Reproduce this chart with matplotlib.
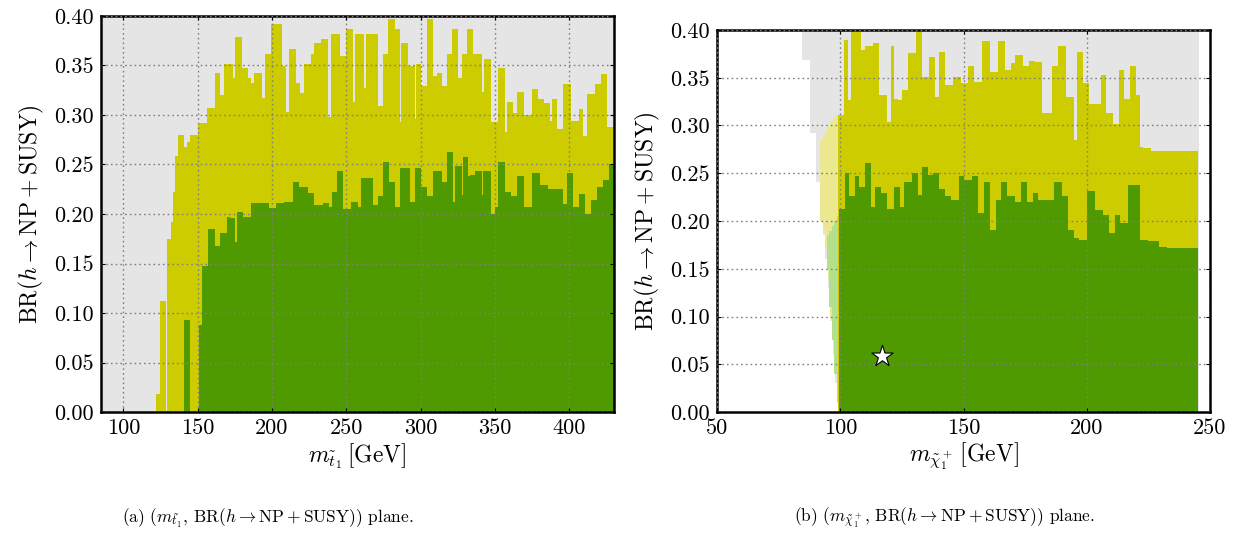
import matplotlib
matplotlib.use("Agg")
import matplotlib.pyplot as plt
from matplotlib.ticker import FuncFormatter, MultipleLocator

plt.rcParams["font.family"] = "serif"
plt.rcParams["font.serif"] = ["cmr10", "DejaVu Serif"]
plt.rcParams["mathtext.fontset"] = "cm"
plt.rcParams["axes.formatter.use_mathtext"] = True

# colours
YELLOW = "#cccc00"
GREEN = "#4e9a00"
GREY = "#e5e5e5"
PALE_YELLOW = "#ebe88f"
PALE_GREEN = "#b3e08a"

# ---- panel (a): stop mass, envelope of BR per mass bin ----
stop_yel_edges = [121.7, 124.7, 128.5, 129.6, 132, 133.6, 135, 137, 141, 143, 145, 150,
                  156, 162, 165, 168, 173.5, 175, 180, 184, 186, 188, 193, 195.5, 199,
                  207, 209.4, 211.7, 216, 218.5, 221.7, 226, 228.5, 233, 237.4, 239.7,
                  246, 250, 254.5, 256, 262, 263.5, 271, 274.7, 278, 282.5, 286, 287,
                  291.5, 296, 297, 300, 304.5, 308, 310.8, 314, 317.5, 321, 325.3, 328,
                  331, 335.4, 341, 342.8, 347.3, 352.2, 356.7, 358.3, 362, 364.6, 369.3,
                  374.6, 378.6, 382.6, 386.7, 388, 392, 396, 401, 406.7, 409, 412, 417.4,
                  421.4, 425.4, 430]
stop_yel_top = [0.018, 0.112, 0.0, 0.175, 0.192, 0.222, 0.259, 0.280, 0.268, 0.273, 0.280,
                0.292, 0.307, 0.342, 0.320, 0.352, 0.337, 0.379, 0.347, 0.337, 0.332,
                0.342, 0.317, 0.362, 0.392, 0.350, 0.303, 0.367, 0.332, 0.322, 0.352,
                0.362, 0.373, 0.377, 0.298, 0.382, 0.360, 0.387, 0.313, 0.382, 0.327,
                0.382, 0.309, 0.362, 0.397, 0.387, 0.293, 0.373, 0.350, 0.296, 0.352,
                0.329, 0.397, 0.339, 0.342, 0.329, 0.362, 0.387, 0.337, 0.362, 0.387,
                0.362, 0.323, 0.357, 0.293, 0.347, 0.283, 0.313, 0.302, 0.323, 0.300,
                0.326, 0.316, 0.312, 0.294, 0.316, 0.286, 0.331, 0.294, 0.306, 0.279,
                0.321, 0.331, 0.341, 0.288]

stop_grn_edges = [141, 145, 151, 153, 157, 162, 165, 170, 172, 175, 176.5, 180.5, 186,
                  191.5, 198, 202.5, 208, 214, 218.4, 224, 228.5, 234, 238.5, 240.6, 244,
                  247.5, 253, 258, 260, 268, 271, 274.7, 278.5, 282.5, 286, 292.6, 296,
                  300.4, 304.5, 308, 314, 317.5, 322, 323, 327.6, 328.5, 332, 333, 336.5,
                  341, 342, 347, 350, 352.2, 356.7, 361, 364.6, 369.3, 374.6, 380, 385.3,
                  396, 398.7, 402.7, 406.7, 410.7, 414.7, 418.7, 422.7, 426.8, 430]
stop_grn_top = [0.093, 0.0, 0.088, 0.147, 0.185, 0.168, 0.181, 0.197, 0.196, 0.172, 0.202,
                0.197, 0.211, 0.211, 0.206, 0.211, 0.212, 0.232, 0.227, 0.221, 0.209,
                0.211, 0.207, 0.222, 0.243, 0.205, 0.212, 0.207, 0.236, 0.209, 0.218,
                0.253, 0.232, 0.207, 0.246, 0.212, 0.246, 0.227, 0.218, 0.243, 0.232,
                0.263, 0.212, 0.248, 0.219, 0.258, 0.238, 0.239, 0.243, 0.219, 0.243,
                0.200, 0.207, 0.253, 0.222, 0.218, 0.238, 0.207, 0.241, 0.229, 0.225,
                0.210, 0.241, 0.207, 0.220, 0.200, 0.214, 0.227, 0.234, 0.251]

# ---- panel (b): chargino mass ----
chi_grey_edges = [84.5, 87.8, 90, 92, 93, 94, 95, 96, 97, 98, 99, 245.5]
chi_grey_low = [0.369, 0.292, 0.241, 0.20, 0.185, 0.16, 0.13, 0.095, 0.06, 0.03, 0.0]
chi_grey_top = [0.40] * 11

chi_paley_edges = [91.8, 93, 94, 95, 96, 97, 98, 99.3]
chi_paley_low = [0.20, 0.19, 0.17, 0.14, 0.10, 0.07, 0.04]
chi_paley_top = [0.285, 0.29, 0.295, 0.30, 0.305, 0.308, 0.311]

chi_paleg_edges = [94.5, 95.5, 96.5, 97.5, 98.5, 99.5]
chi_paleg_low = [0.15, 0.11, 0.075, 0.04, 0.01]
chi_paleg_top = [0.185, 0.19, 0.195, 0.20, 0.205]

chi_yel_edges = [99, 101.4, 103, 104.5, 108.5, 110, 113.2, 115.6, 118.8, 120.4, 122,
                 123.5, 125, 127.5, 130.6, 133, 136, 138.5, 140, 142.5, 145.6, 148.8,
                 152, 154.3, 157.5, 160.7, 163.8, 167, 169.4, 171, 174, 176.5, 178.9, 182,
                 184.4, 186, 188.3, 191.5, 194.7, 196.2, 198.6, 201, 203.4, 205.7, 208,
                 210.5, 213, 215, 217.6, 220, 221.5, 223, 226, 245.3]
chi_yel_top = [0.311, 0.390, 0.327, 0.398, 0.379, 0.383, 0.386, 0.332, 0.304, 0.383,
               0.328, 0.327, 0.337, 0.376, 0.398, 0.351, 0.372, 0.330, 0.377, 0.342,
               0.351, 0.344, 0.362, 0.346, 0.388, 0.356, 0.388, 0.358, 0.365, 0.374,
               0.362, 0.368, 0.367, 0.313, 0.313, 0.362, 0.383, 0.330, 0.285, 0.377,
               0.344, 0.323, 0.323, 0.353, 0.313, 0.302, 0.358, 0.328, 0.362, 0.332,
               0.278, 0.276, 0.273]

chi_grn_edges = [99.3, 102, 103.7, 106, 107.7, 110, 112.5, 114, 116.4, 118.8, 122, 124.3,
                 126, 129, 131.4, 133, 135.4, 137.7, 140, 142.5, 144.9, 148, 150.4, 153.6,
                 156, 158.3, 160.7, 163, 165.4, 167.8, 171, 173.3, 175.7, 178, 180.4,
                 183.6, 186.8, 190, 192.3, 194.7, 197, 200.2, 203.4, 206.5, 208.9, 211.3,
                 213.6, 216.8, 219.2, 221.5, 224.7, 229.4, 232.6, 245.3]
chi_grn_top = [0.213, 0.250, 0.226, 0.247, 0.236, 0.261, 0.215, 0.236, 0.229, 0.213,
               0.236, 0.215, 0.241, 0.250, 0.227, 0.257, 0.248, 0.250, 0.233, 0.226,
               0.222, 0.247, 0.243, 0.247, 0.208, 0.241, 0.191, 0.222, 0.241, 0.226,
               0.220, 0.241, 0.220, 0.229, 0.222, 0.222, 0.241, 0.226, 0.191, 0.182,
               0.180, 0.231, 0.212, 0.206, 0.187, 0.206, 0.198, 0.238, 0.238, 0.180,
               0.179, 0.173, 0.172]

star_mass = [116.9]
star_br = [0.059]

YLABEL = r"$\mathrm{BR}(h \rightarrow \mathrm{NP} + \mathrm{SUSY})$"


def style_axes(ax, xlim, xstep, xlabel):
    ax.set_xlim(*xlim)
    ax.set_ylim(0, 0.40)
    ax.xaxis.set_major_locator(MultipleLocator(xstep))
    ax.yaxis.set_major_locator(MultipleLocator(0.05))
    ax.xaxis.set_major_formatter(FuncFormatter(lambda v, p: f"{v:.0f}"))
    ax.yaxis.set_major_formatter(FuncFormatter(lambda v, p: f"{v:.2f}"))
    ax.tick_params(direction="in", length=3, width=0.8, labelsize=16,
                   top=True, right=True, pad=5)
    ax.grid(True, color="#808080", linestyle=(0, (1.2, 2.2)), linewidth=1.0)
    ax.set_axisbelow(False)
    for s in ax.spines.values():
        s.set_linewidth(1.8)
    ax.set_xlabel(xlabel, fontsize=17, labelpad=2)
    ax.set_ylabel(YLABEL, fontsize=17, labelpad=6)


fig = plt.figure(figsize=(12.34, 5.37), dpi=100)

# (a)
ax1 = fig.add_axes([101 / 1234, 1 - 412 / 537, 513 / 1234, 396 / 537])
ax1.set_facecolor(GREY)
ax1.stairs(stop_yel_top, stop_yel_edges, fill=True, color=YELLOW, zorder=1)
ax1.stairs(stop_grn_top, stop_grn_edges, fill=True, color=GREEN, zorder=1.2)
style_axes(ax1, (85, 430), 50, r"$m_{\tilde{t}_1}\,[\mathrm{GeV}]$")

# (b)
ax2 = fig.add_axes([717 / 1234, 1 - 412 / 537, 493 / 1234, 382 / 537])
ax2.set_facecolor("white")
ax2.stairs(chi_grey_top, chi_grey_edges, baseline=chi_grey_low, fill=True,
           color=GREY, zorder=0.8)
ax2.stairs(chi_paley_top, chi_paley_edges, baseline=chi_paley_low, fill=True,
           color=PALE_YELLOW, zorder=0.9)
ax2.stairs(chi_paleg_top, chi_paleg_edges, baseline=chi_paleg_low, fill=True,
           color=PALE_GREEN, zorder=0.95)
ax2.stairs(chi_yel_top, chi_yel_edges, fill=True, color=YELLOW, zorder=1)
ax2.stairs(chi_grn_top, chi_grn_edges, fill=True, color=GREEN, zorder=1.2)
ax2.scatter(star_mass, star_br, marker="*", s=260, c="white", edgecolors="black",
            linewidths=0.8, zorder=5)
style_axes(ax2, (50, 250), 50, r"$m_{\tilde{\chi}_1^+}\,[\mathrm{GeV}]$")

fig.text(0.217, 0.035,
         r"(a) $(m_{\tilde{t}_1},\, \mathrm{BR}(h \rightarrow \mathrm{NP} + \mathrm{SUSY}))$ plane.",
         ha="center", va="center", fontsize=12.5)
fig.text(0.765, 0.035,
         r"(b) $(m_{\tilde{\chi}_1^+},\, \mathrm{BR}(h \rightarrow \mathrm{NP} + \mathrm{SUSY}))$ plane.",
         ha="center", va="center", fontsize=12.5)

fig.savefig("out.png", dpi=100)
